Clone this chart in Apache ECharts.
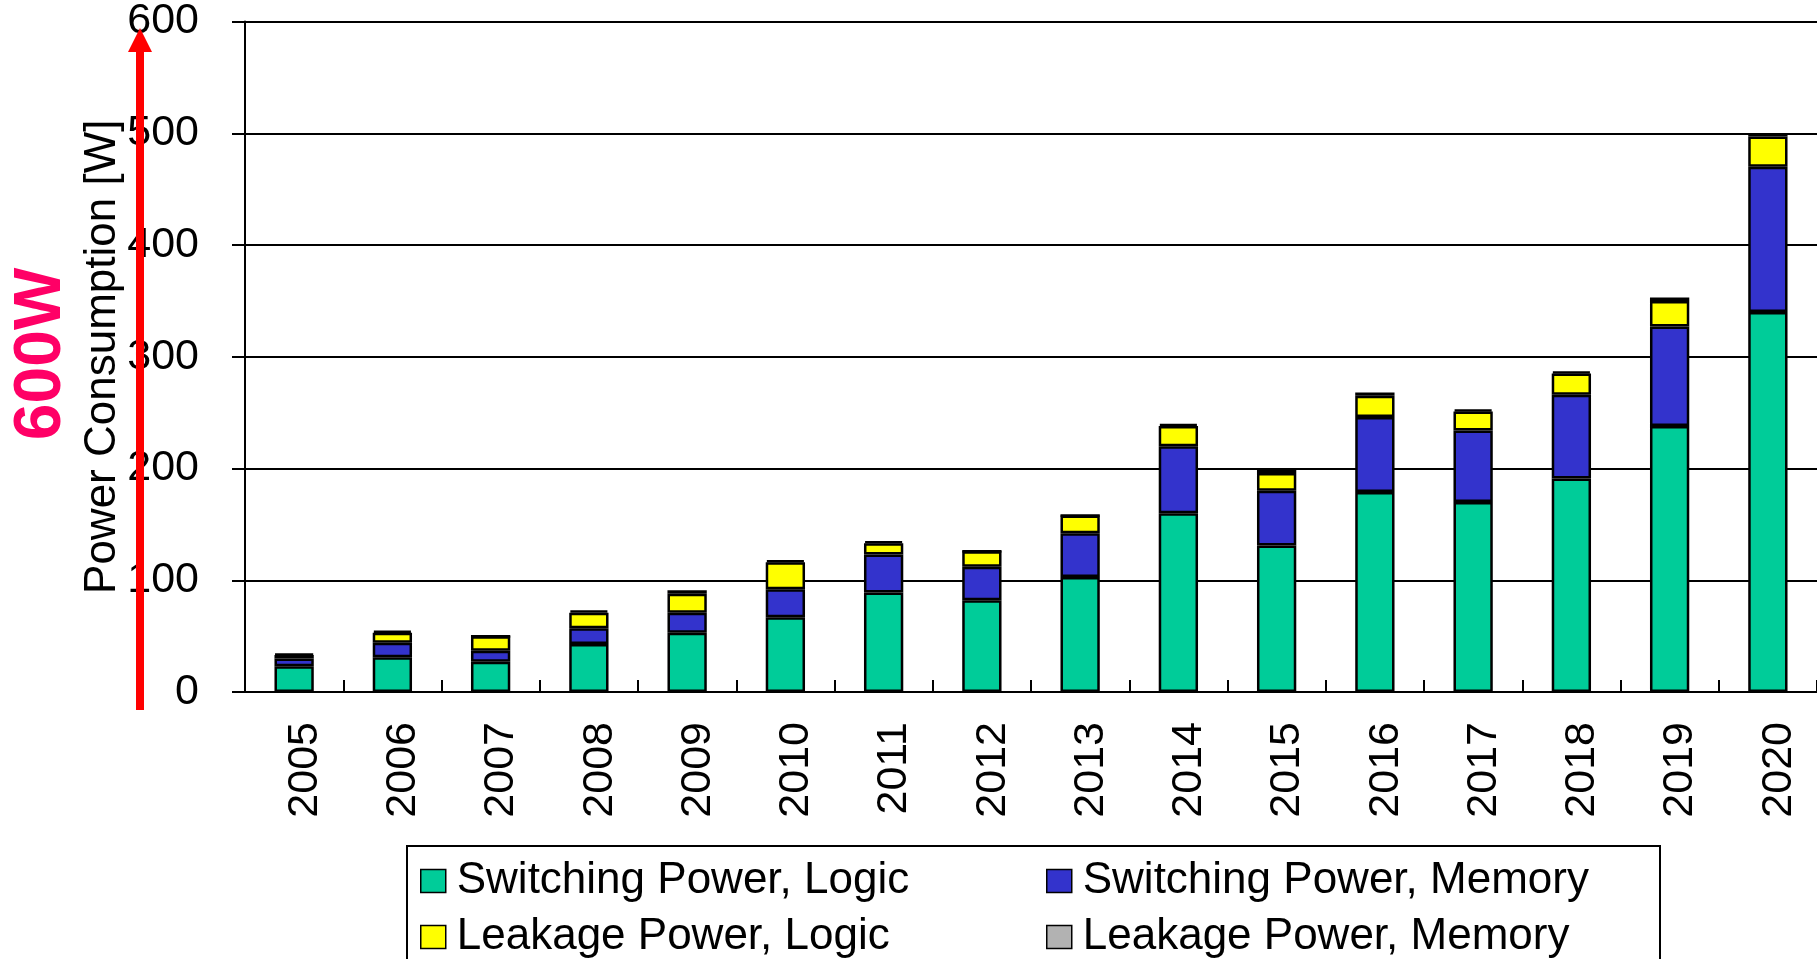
<!DOCTYPE html>
<html>
<head>
<meta charset="utf-8">
<script src="https://cdn.jsdelivr.net/npm/echarts@6/dist/echarts.min.js"></script>
<style>
  html, body { margin: 0; padding: 0; background: #fff; }
  #chart { width: 1817px; height: 959px; }
</style>
</head>
<body>
<div id="chart"></div>
<script>
const years = ['2005','2006','2007','2008','2009','2010','2011','2012','2013','2014','2015','2016','2017','2018','2019','2020'];
const switchingLogic  = [23, 31, 27, 43, 53, 67, 89, 82, 103, 160, 131, 179, 170, 191, 238, 340];
const switchingMemory = [7, 13, 10, 14, 18, 25, 34, 30, 39, 60, 49, 67, 64, 75, 89, 130];
const leakageLogic    = [3, 9, 13, 14, 17, 24, 10, 14, 16, 18, 16, 19, 17, 19, 23, 27];
const leakageMemory   = [1, 2, 0, 2, 3, 2, 2, 0, 0, 2, 3, 3, 2, 2, 3, 3];
const yTicks = [0, 100, 200, 300, 400, 500, 600];
const seriesNames = ['Switching Power, Logic', 'Switching Power, Memory', 'Leakage Power, Logic', 'Leakage Power, Memory'];

const FONT = 'Liberation Sans, Arial, sans-serif';
const chart = echarts.init(document.getElementById('chart'));

function barSeries(name, data, color) {
  return {
    name: name,
    type: 'bar',
    stack: 'power',
    data: data,
    barWidth: '40%',
    itemStyle: { color: color, borderColor: '#000', borderWidth: 2.5 },
    emphasis: { disabled: true }
  };
}

function legendColumn(left, names) {
  return {
    left: left,
    top: 856,
    height: 150,
    orient: 'vertical',
    icon: 'rect',
    itemWidth: 25,
    itemHeight: 23,
    itemGap: 6,
    padding: 0,
    selectedMode: false,
    data: names,
    itemStyle: { borderWidth: 1.5, borderColor: '#000' },
    textStyle: { fontSize: 44, fontFamily: FONT, color: '#000', lineHeight: 50, padding: [0, 0, 0, 6] }
  };
}

chart.setOption({
  animation: false,
  backgroundColor: '#fff',
  grid: { left: 245, top: 16, width: 1579, height: 676 },
  xAxis: {
    type: 'category',
    data: years,
    axisLine: { show: true, lineStyle: { color: '#000', width: 2 } },
    axisTick: { show: true, inside: true, length: 12, lineStyle: { color: '#000', width: 2 } },
    axisLabel: { rotate: 90, margin: 30, fontSize: 43, fontFamily: FONT, color: '#000', verticalAlign: 'top', lineHeight: 22 }
  },
  yAxis: {
    type: 'value',
    min: yTicks[0],
    max: yTicks[yTicks.length - 1],
    interval: 100,
    name: 'Power Consumption [W]',
    nameLocation: 'middle',
    nameGap: 120,
    nameMoveOverlap: false,
    nameTextStyle: { fontSize: 44, fontFamily: FONT, color: '#000' },
    axisLine: { show: true, lineStyle: { color: '#000', width: 2 } },
    axisTick: { show: true, inside: false, length: 13, lineStyle: { color: '#000', width: 2 } },
    axisLabel: { margin: 46, fontSize: 43, fontFamily: FONT, color: '#000' },
    splitLine: { show: true, lineStyle: { color: '#000', width: 2 } }
  },
  legend: [
    legendColumn(420, [seriesNames[0], seriesNames[2]]),
    legendColumn(1046, [seriesNames[1], seriesNames[3]])
  ],
  series: [
    barSeries(seriesNames[0], switchingLogic, '#00CC99'),
    barSeries(seriesNames[1], switchingMemory, '#3333CC'),
    barSeries(seriesNames[2], leakageLogic, '#FFFF00'),
    barSeries(seriesNames[3], leakageMemory, '#B2B2B2')
  ],
  graphic: [
    {
      type: 'rect',
      z: -1,
      shape: { x: 407, y: 846, width: 1253, height: 200 },
      style: { fill: '#fff', stroke: '#000', lineWidth: 2 }
    },
    {
      type: 'text',
      x: 42, y: 354,
      rotation: Math.PI / 2,
      z: 100,
      style: { text: '600W', fill: '#FF0066', font: 'bold 66px ' + FONT, align: 'center', verticalAlign: 'middle' }
    },
    {
      type: 'line',
      z: 100,
      shape: { x1: 140, y1: 710, x2: 140, y2: 48 },
      style: { stroke: '#FF0000', lineWidth: 8 }
    },
    {
      type: 'polygon',
      z: 100,
      shape: { points: [[128, 52], [152, 52], [140, 28]] },
      style: { fill: '#FF0000' }
    }
  ]
});
</script>
</body>
</html>
